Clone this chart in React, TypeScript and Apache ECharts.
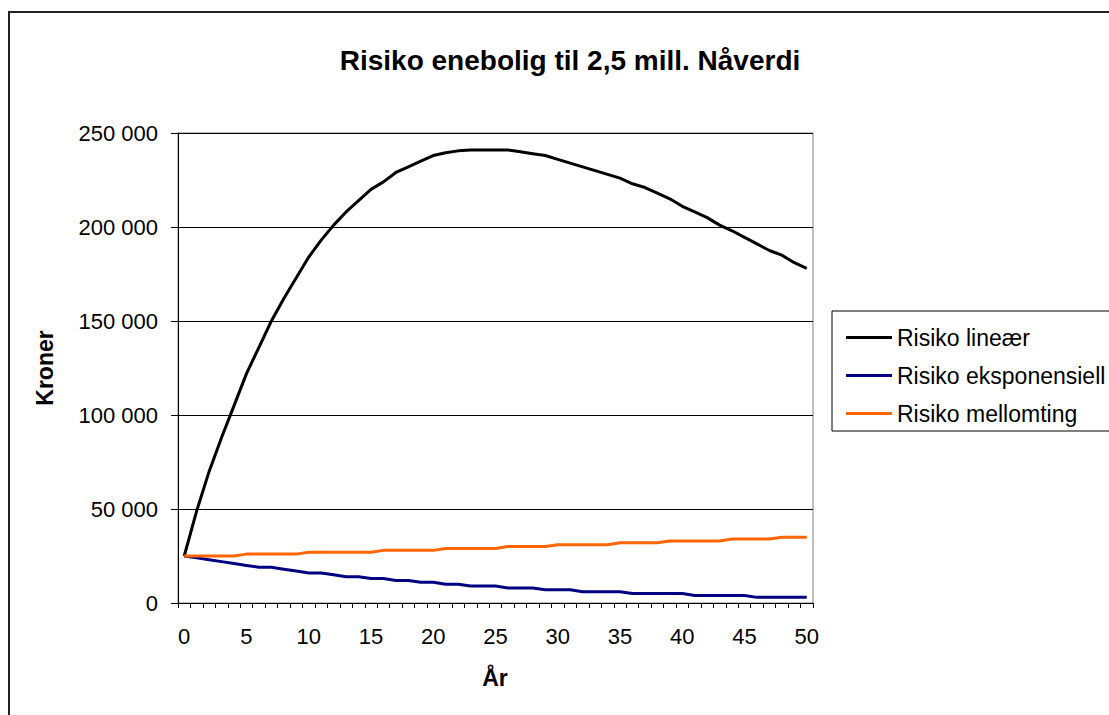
import React, { useEffect, useRef } from "react";
import * as echarts from "echarts";

const years: string[] = [
  "0", "1", "2", "3", "4", "5", "6", "7", "8", "9",
  "10", "11", "12", "13", "14", "15", "16", "17", "18", "19",
  "20", "21", "22", "23", "24", "25", "26", "27", "28", "29",
  "30", "31", "32", "33", "34", "35", "36", "37", "38", "39",
  "40", "41", "42", "43", "44", "45", "46", "47", "48", "49", "50",
];

const risikoLineaer: number[] = [
  25000, 49000, 70000, 88000, 105000, 122000, 136000, 150000, 162000, 173000,
  184000, 193000, 201000, 208000, 214000, 220000, 224000, 229000, 232000, 235000,
  238000, 239500, 240500, 241000, 241000, 241000, 241000, 240000, 239000, 238000,
  236000, 234000, 232000, 230000, 228000, 226000, 223000, 221000, 218000, 215000,
  211000, 208000, 205000, 201000, 198000, 194500, 191000, 187500, 185000, 181000,
  178000,
];

const risikoEksponensiell: number[] = [
  25000, 24000, 23000, 22000, 21000, 20000, 19000, 19000, 18000, 17000,
  16000, 16000, 15000, 14000, 14000, 13000, 13000, 12000, 12000, 11000,
  11000, 10000, 10000, 9000, 9000, 9000, 8000, 8000, 8000, 7000,
  7000, 7000, 6000, 6000, 6000, 6000, 5000, 5000, 5000, 5000,
  5000, 4000, 4000, 4000, 4000, 4000, 3000, 3000, 3000, 3000,
  3000,
];

const risikoMellomting: number[] = [
  25000, 25000, 25000, 25000, 25000, 26000, 26000, 26000, 26000, 26000,
  27000, 27000, 27000, 27000, 27000, 27000, 28000, 28000, 28000, 28000,
  28000, 29000, 29000, 29000, 29000, 29000, 30000, 30000, 30000, 30000,
  31000, 31000, 31000, 31000, 31000, 32000, 32000, 32000, 32000, 33000,
  33000, 33000, 33000, 33000, 34000, 34000, 34000, 34000, 35000, 35000,
  35000,
];

const seriesNames: string[] = ["Risiko lineær", "Risiko eksponensiell", "Risiko mellomting"];
const seriesColors: string[] = ["#000000", "#000080", "#FF6600"];

const titleText = "Risiko enebolig til 2,5 mill. Nåverdi";
const xAxisTitle = "År";
const yAxisTitle = "Kroner";

const FONT = "Liberation Sans, Arial, sans-serif";

function fmt(v: number): string {
  return String(v).replace(/\B(?=(\d{3})+(?!\d))/g, " ");
}

export default function App() {
  const ref = useRef<HTMLDivElement>(null);

  useEffect(() => {
    if (!ref.current) return;
    const chart = echarts.init(ref.current, undefined, { renderer: "svg" });
    const dataSets = [risikoLineaer, risikoEksponensiell, risikoMellomting];
    chart.setOption({
      animation: false,
      backgroundColor: "#ffffff",
      textStyle: { fontFamily: FONT },
      title: {
        text: titleText,
        left: 565,
        top: 41,
        textAlign: "center",
        textStyle: { fontFamily: FONT, fontSize: 28, fontWeight: "bold", color: "#000" },
      },
      grid: {
        left: 178,
        top: 133,
        width: 635,
        height: 470,
        show: true,
        borderColor: "#808080",
        borderWidth: 1,
        backgroundColor: "#ffffff",
      },
      legend: {
        orient: "vertical",
        left: 841,
        top: 321,
        itemWidth: 46,
        itemHeight: 3,
        itemGap: 15,
        icon: "rect",
        selectedMode: false,
        data: seriesNames,
        textStyle: { fontFamily: FONT, fontSize: 23, color: "#000", lineHeight: 23 },
      },
      xAxis: {
        type: "category",
        data: years,
        boundaryGap: true,
        axisLine: { show: true, lineStyle: { color: "#000", width: 1 } },
        axisTick: { show: true, interval: 0, length: 5, lineStyle: { color: "#000" } },
        axisLabel: { interval: 4, margin: 22, fontSize: 22, color: "#000", fontFamily: FONT },
        splitLine: { show: false },
      },
      yAxis: {
        type: "value",
        min: 0,
        max: 250000,
        interval: 50000,
        axisLine: { show: true, lineStyle: { color: "#000", width: 1 } },
        axisTick: { show: true, length: 7, lineStyle: { color: "#000" } },
        axisLabel: { margin: 20, fontSize: 22, color: "#000", fontFamily: FONT, formatter: (v: number) => fmt(v) },
        splitLine: { show: true, lineStyle: { color: "#000", width: 1 } },
      },
      graphic: [
        {
          type: "rect",
          shape: { x: 9, y: 12, width: 1200, height: 800 },
          style: { fill: "none", stroke: "#222", lineWidth: 2 },
          silent: true,
        },
        {
          type: "rect",
          shape: { x: 832, y: 311, width: 400, height: 120 },
          style: { fill: "none", stroke: "#000", lineWidth: 1 },
          silent: true,
        },
        {
          type: "text",
          x: 45,
          y: 368,
          rotation: Math.PI / 2,
          style: {
            text: yAxisTitle,
            font: `bold 23px ${FONT}`,
            fill: "#000",
            textAlign: "center",
            textVerticalAlign: "middle",
          },
        },
        {
          type: "text",
          x: 495,
          y: 678,
          style: {
            text: xAxisTitle,
            font: `bold 23px ${FONT}`,
            fill: "#000",
            textAlign: "center",
            textVerticalAlign: "middle",
          },
        },
      ],
      series: dataSets.map((d, i) => ({
        name: seriesNames[i],
        type: "line",
        data: d,
        symbol: "none",
        smooth: false,
        lineStyle: { color: seriesColors[i], width: 3 },
        itemStyle: { color: seriesColors[i] },
      })),
    });
    return () => chart.dispose();
  }, []);

  return (
    <div
      ref={ref}
      style={{ position: "absolute", left: 0, top: 0, width: 1109, height: 715 }}
    />
  );
}
